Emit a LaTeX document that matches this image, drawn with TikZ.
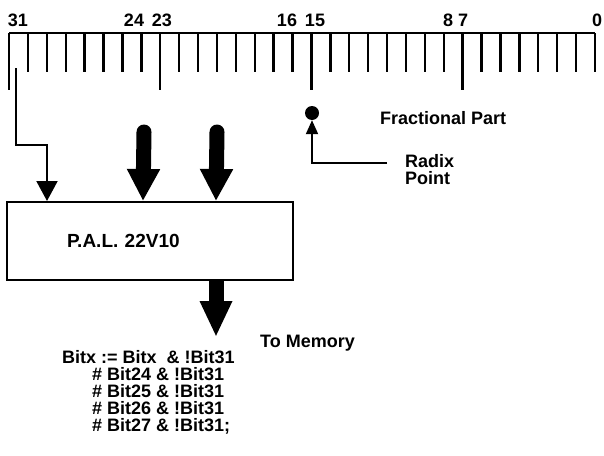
\documentclass[tikz,border=0pt]{standalone}
\usepackage{fontspec}
\setmainfont{Liberation Sans}
\usepackage{xcolor}
\usepackage{tikz}
\usetikzlibrary{positioning,shapes,arrows,arrows.meta,calc}

\begin{document}
\begin{tikzpicture}[x=1pt, y=-1pt,
    lbl/.style={font=\fontsize{18}{17}\selectfont\bfseries, inner sep=0pt},
    bus/.style={line width=15pt, line cap=round, -{Triangle[length=32pt,width=31pt]}},
    wire/.style={line width=2pt, -{Triangle[length=20pt,width=21pt]}}]
    \useasboundingbox[fill=white] (0,0) rectangle (604,455);

    % bit ruler
    \draw[line width=2pt] (9,33) -- (595,33);
    \foreach \b [evaluate=\b as \xx using 9+(31-\b)*18.9] in {0,...,31} {
        \coordinate (t\b) at (\xx,33);
        \draw[line width=2.4pt] (t\b) -- ++(0,39);
    }
    \foreach \b in {31,23,15,7}
        \draw[line width=2.4pt] (t\b) -- ++(0,57);

    \node[lbl] (n31) at (18,20) {31};
    \node[lbl] (n24) at (134,20) {24};
    \node[lbl] (n23) at (162,20) {23};
    \node[lbl] (n16) at (287,20) {16};
    \node[lbl] (n15) at (315,20) {15};
    \node[lbl] (n8) at (448,20) {8};
    \node[lbl] (n7) at (463,20) {7};
    \node[lbl] (n0) at (597,20) {0};

    % the PAL
    \node[draw, line width=2pt, lbl, minimum width=286pt, minimum height=78pt,
        inner xsep=60pt, text width=166pt, align=left, font=\fontsize{19}{20}\selectfont\bfseries]
        (pal) at (150,241) {P.A.L. 22V10};

    \coordinate (src) at (16,68);
    \draw[wire] (src) -- (16,145) -| ($(pal.north west)+(41,0)$);
    \draw[bus] (144,132) -- ($(pal.north west)+(137,0)$);
    \draw[bus] (217,132) -- ($(pal.north west)+(210,0)$);
    \draw[line width=15pt, -{Triangle[length=36pt,width=30pt]}]
        ($(pal.south west)+(210,0)$) -- ++(0,56);

    % radix point
    \node[circle, fill, inner sep=0pt, minimum size=14pt] (radix) at (312,113) {};
    \coordinate (rx) at (387,163);
    \draw[line width=2pt, -{Triangle[length=14pt,width=12pt]}] (rx) -| (radix.south);

    \node[lbl, anchor=west] (frac) at (380,118) {Fractional Part};
    \node[lbl, anchor=west, align=left] (rlbl) at (405,170) {Radix\\Point};
    \node[lbl, anchor=west] (mem) at (260,343) {To Memory};

    \node[lbl, anchor=north west, align=left] (code) at (62,350)
        {Bitx := Bitx\ \ \& !Bit31\\
         \hspace*{30pt}\# Bit24 \& !Bit31\\
         \hspace*{30pt}\# Bit25 \& !Bit31\\
         \hspace*{30pt}\# Bit26 \& !Bit31\\
         \hspace*{30pt}\# Bit27 \& !Bit31;};
\end{tikzpicture}
\end{document}
